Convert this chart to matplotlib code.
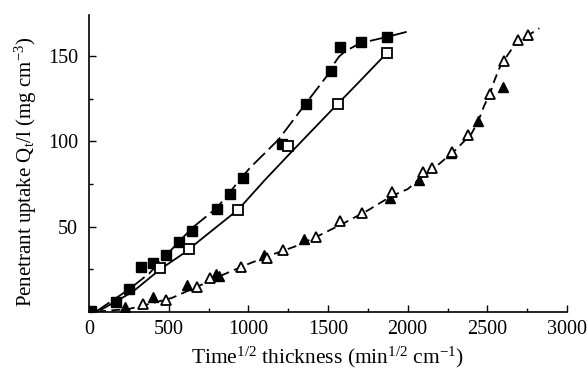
import numpy as np
import matplotlib
matplotlib.use('Agg')
import matplotlib.pyplot as plt
from matplotlib.ticker import MultipleLocator

plt.rcParams['font.family'] = 'Liberation Serif'
plt.rcParams['mathtext.fontset'] = 'custom'
plt.rcParams['mathtext.rm'] = 'Liberation Serif'
plt.rcParams['mathtext.it'] = 'Liberation Serif:italic'

# filled squares
fsq_x = [10, 169, 249, 324, 404, 485, 567, 645, 803, 885, 968, 1210, 1359, 1519, 1577, 1707, 1868]
fsq_y = [0.3, 5.8, 13.4, 26, 28.7, 33.4, 40.9, 47.5, 60.3, 69.3, 78.4, 98.4, 122, 141.4, 155.4, 158.4, 161.3]
# open squares
osq_x = [446, 628, 937, 1251, 1560, 1871]
osq_y = [25.6, 36.5, 59.6, 97.4, 122, 152.2]
# filled triangles
ftr_x = [226, 404, 613, 795, 815, 1096, 1349, 1887, 2074, 2274, 2441, 2596]
ftr_y = [2.5, 8.3, 15.6, 22, 21, 33.2, 42.5, 67, 77.4, 93, 112, 132]
# open triangles
otr_x = [337, 481, 676, 759, 954, 1115, 1216, 1425, 1575, 1713, 1900, 2098, 2155,
         2280, 2381, 2519, 2607, 2691, 2757]
otr_y = [4.4, 6.8, 14.2, 19.5, 26.4, 31.3, 36.2, 43.8, 53.2, 57.8, 70.3, 82.1, 84.6,
         93.8, 103.8, 128.1, 147.5, 159.5, 162.4]

# fitted curves
fit1_x = [44, 250, 379, 483, 645, 803, 969, 1010, 1188, 1362, 1513, 1540, 1570, 1607, 1701, 1870, 2015]
fit1_y = [0, 13, 22.5, 33, 49, 61, 80, 84.5, 101, 122.5, 141, 146, 150, 153, 157.8, 161.5, 165]
fit2_x = [75, 274, 446, 609, 697, 937, 1104, 1282, 1513, 1700, 1871]
fit2_y = [1, 11.6, 24.8, 35.2, 42, 60, 77.4, 95, 117.5, 135.5, 152.2]
fit3_x = [50, 250, 400, 520, 700, 850, 1000, 1150, 1300, 1450, 1600, 1750, 1900, 2000,
          2100, 2200, 2300, 2400, 2443, 2480, 2520, 2545, 2575, 2607, 2650, 2691, 2757, 2826]
fit3_y = [0, 1.5, 5, 8, 15.5, 22, 28, 33.5, 38.5, 45, 52, 59.5, 68, 72,
          80, 87, 95, 104.5, 112, 121, 129, 136, 143, 148, 154, 158.5, 162.5, 166.6]

fig = plt.figure(figsize=(5.88, 3.7), dpi=100)
ax = fig.add_axes([0.1514, 0.158, 0.8129, 0.8015])

ax.plot(fit1_x, fit1_y, color='black', lw=1.3, dashes=(9, 3))
ax.plot(fit2_x, fit2_y, color='black', lw=1.3)
ax.plot(fit3_x, fit3_y, color='black', lw=1.3, dashes=(5, 3))

ax.plot(fsq_x, fsq_y, 's', color='black', ms=6.5, ls='none')
ax.plot(osq_x, osq_y, 's', mfc='white', mec='black', mew=1.3, ms=6.5, ls='none')
ax.plot(ftr_x, ftr_y, '^', color='black', ms=7, ls='none')
ax.plot(otr_x, otr_y, '^', mfc='white', mec='black', mew=1.3, ms=7, ls='none')

ax.set_xlim(0, 3000)
ax.set_ylim(0, 174.4)
ax.xaxis.set_major_locator(MultipleLocator(500))
ax.xaxis.set_minor_locator(MultipleLocator(250))
ax.set_yticks([50, 100, 150])
ax.yaxis.set_minor_locator(MultipleLocator(25))
ax.tick_params(which='both', direction='in', labelsize=14.5, width=1)
ax.tick_params(axis='y', pad=8)
ax.tick_params(axis='x', pad=6)
ax.tick_params(which='major', length=5)
ax.tick_params(which='minor', length=3)
ax.spines['top'].set_visible(False)
ax.spines['right'].set_visible(False)
for s in ['left', 'bottom']:
    ax.spines[s].set_linewidth(1.2)

ax.set_xlabel(r'Time$^{1/2}$ thickness (min$^{1/2}$ cm$^{-1}$)', fontsize=15.5, labelpad=4)
ax.set_ylabel(r'Penetrant uptake Q$_\mathregular{t}$/l (mg cm$^{-3}$)', fontsize=15)
ax.yaxis.set_label_coords(-0.105, 0.47)

fig.savefig('out.png', dpi=100)
